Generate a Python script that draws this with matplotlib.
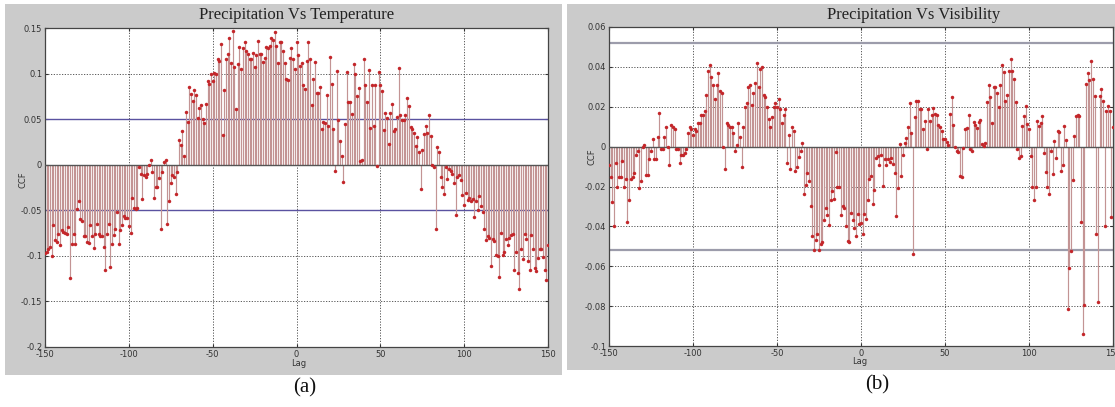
import numpy as np
import matplotlib
matplotlib.use('Agg')
import matplotlib.pyplot as plt
from matplotlib.patches import Rectangle

lags = np.arange(-150, 151)

temp_ccf = [
    -0.097, -0.096, -0.093, -0.090, -0.100, -0.066, -0.083, -0.085, -0.076, -0.088,
    -0.072, -0.074, -0.075, -0.076, -0.068, -0.124, -0.087, -0.076, -0.087, -0.049,
    -0.040, -0.060, -0.062, -0.078, -0.078, -0.085, -0.086, -0.066, -0.078, -0.091,
    -0.076, -0.065, -0.076, -0.078, -0.078, -0.090, -0.115, -0.076, -0.065, -0.112,
    -0.087, -0.077, -0.070, -0.052, -0.087, -0.072, -0.066, -0.056, -0.058, -0.058,
    -0.067, -0.075, -0.036, -0.047, -0.049, -0.048,
    -0.002, -0.010, -0.038, -0.011, -0.013, -0.010, 0.000, 0.005, -0.008, -0.037,
    -0.025, -0.025, -0.015, -0.071, -0.008, 0.003, 0.005, -0.065, -0.040, -0.020,
    -0.011, -0.014, -0.032, -0.008,
    0.027, 0.022, 0.037, 0.010, 0.058, 0.047, 0.085, 0.078, 0.070, 0.082,
    0.077, 0.051, 0.062, 0.065, 0.050, 0.046, 0.067, 0.092, 0.089, 0.100,
    0.092, 0.101, 0.100, 0.116, 0.114, 0.132, 0.033, 0.082, 0.116, 0.121,
    0.139, 0.112, 0.147, 0.107, 0.061, 0.110, 0.129, 0.105, 0.128, 0.135,
    0.125, 0.121, 0.116, 0.116, 0.123, 0.107, 0.120, 0.136, 0.122, 0.122,
    0.113, 0.117, 0.129, 0.128,
    0.130, 0.139, 0.137, 0.146, 0.130, 0.112, 0.135, 0.135, 0.125, 0.112,
    0.094, 0.093, 0.117, 0.128, 0.116, 0.105, 0.135, 0.120, 0.108, 0.112,
    0.087, 0.083, 0.114, 0.135, 0.116, 0.066, 0.094, 0.113, 0.079, 0.079,
    0.085, 0.039, 0.047, 0.046, 0.076, 0.042, 0.118, 0.089, 0.039, -0.007,
    0.103, 0.049, 0.026, 0.010, -0.019, 0.045, 0.102, 0.069, 0.069, 0.056,
    0.110, 0.100, 0.075, 0.084, 0.004, 0.005, 0.116, 0.088, 0.069, 0.104,
    0.040, 0.088, 0.042, 0.088, -0.001, 0.102, 0.087, 0.081, 0.038, 0.057,
    0.051, 0.023, 0.057, 0.067, 0.037, 0.039, 0.052, 0.106, 0.055, 0.049,
    0.049, 0.054, 0.073, 0.064, 0.041, 0.039, 0.035, 0.020, 0.030, 0.014,
    -0.027, 0.016, 0.034, 0.043, 0.035, 0.054, 0.032, 0.000, -0.003, -0.070,
    0.019, 0.014, -0.014, -0.025, -0.032, -0.003, -0.016, -0.005, -0.007, -0.010,
    -0.020, -0.055, -0.013, -0.011, -0.017, -0.033, -0.044, -0.031, -0.039, -0.037,
    -0.040, -0.038, -0.057, -0.040, -0.050, -0.034, -0.045, -0.052, -0.070, -0.083,
    -0.078, -0.080, -0.111, -0.082, -0.084, -0.099, -0.100, -0.123, -0.075, -0.099,
    -0.096, -0.082, -0.088, -0.080, -0.077, -0.076, -0.115, -0.096, -0.119, -0.136,
    -0.093, -0.103, -0.076, -0.082, -0.106, -0.115, -0.077, -0.093, -0.113, -0.117,
    -0.102, -0.092, -0.093, -0.101, -0.115, -0.127, -0.088,
]

vis_ccf = [
    -0.009, -0.015, -0.028, -0.040, -0.008, -0.020, -0.015, -0.015, -0.007, -0.020,
    -0.016, -0.038, -0.027, -0.016, -0.015, -0.013, -0.004, -0.002, -0.021, -0.017,
    0.000, 0.001, -0.014, -0.014, -0.006, -0.002, 0.004, -0.006, -0.006, 0.005,
    0.017, -0.001, -0.001, 0.005, 0.010, 0.000, -0.009, 0.011, 0.010, 0.009,
    -0.001, -0.001, -0.008, -0.004, -0.004, -0.003, -0.001, 0.007, 0.010, 0.009,
    0.006, 0.009, 0.008, 0.012, 0.012, 0.016, 0.016, 0.018, 0.026, 0.038,
    0.041, 0.035, 0.031, 0.024, 0.031, 0.037, 0.028, 0.027, 0.000, -0.011,
    0.012, 0.011, 0.010, 0.010, 0.007, -0.002, 0.001, 0.012, 0.005, -0.010,
    0.010, 0.020, 0.022, 0.030, 0.031, 0.021, 0.027, 0.032, 0.042, 0.030,
    0.039, 0.040, 0.026, 0.025, 0.020, 0.014, 0.010, 0.015, 0.020, 0.022,
    0.020, 0.024, 0.019, 0.012, 0.016, 0.019, -0.008, 0.006, -0.011, 0.010,
    0.008, -0.012, -0.010, -0.005, -0.002, 0.002, -0.024, -0.019, -0.013,
    -0.017, -0.030, -0.045, -0.052, -0.047, -0.044, -0.052, -0.049, -0.048, -0.037,
    -0.031, -0.0345, -0.0395, -0.027, -0.0225, -0.0265, -0.0025, -0.020, -0.0205, -0.0345,
    -0.030, -0.031, -0.040, -0.0475, -0.048, -0.0335, -0.037, -0.041, -0.045, -0.034,
    -0.039, -0.0385, -0.044, -0.034, -0.0365, -0.027, -0.016, -0.0147, -0.029, -0.022,
    -0.0055, -0.0047, -0.009, -0.0042, -0.0197, -0.006, -0.009, -0.006, -0.0075, -0.0055,
    -0.0085, -0.013, -0.035, -0.021, 0.0015, -0.0147, -0.004, 0.002, 0.0045, 0.010,
    0.022, 0.007, -0.054, 0.015, 0.023, 0.023, 0.0188, 0.019, 0.0087, 0.013,
    -0.001, 0.019, 0.013, 0.016, 0.0196, 0.0166, 0.016, 0.011, 0.010, 0.008,
    0.004, 0.004, 0.0025, 0.001, 0.0166, 0.025, 0.011, 0.000, -0.002, -0.0025,
    -0.0147, -0.015, -0.0005, 0.009, 0.0095, 0.016, -0.001, -0.002, 0.0125, 0.011,
    0.0095, 0.0125, 0.0135,
    0.0015, 0.0003, 0.002, 0.0225, 0.031, 0.025, 0.0117, 0.030, 0.030, 0.027,
    0.0197, 0.031, 0.041, 0.0375, 0.023, 0.026, 0.0377, 0.044, 0.0377, 0.034,
    0.0225, -0.001, -0.0057, -0.0045, 0.0105, 0.0155, 0.0205, 0.0113, 0.0088, -0.0045,
    -0.020, -0.0267, -0.020,
    0.0127, 0.0105, 0.012, 0.0155, -0.003, -0.0128, -0.0203, -0.024, -0.002, -0.0137,
    0.003, -0.0057, 0.0077, 0.0072, -0.012, -0.009, 0.0105, 0.0033, -0.0812, -0.0607,
    -0.0523, -0.0167, 0.0055, 0.0155, 0.016, 0.0155, -0.0378, -0.0942, -0.0795, 0.0313,
    0.0367, 0.0333, 0.0427, 0.034, 0.0255, -0.0437, -0.078, 0.0255, 0.029, 0.0227,
    -0.040, 0.018, 0.0205, 0.018, -0.0353, 0.010,
]

xticks = [-150, -100, -50, 0, 50, 100, 150]
temp_yticks = [-0.2, -0.15, -0.1, -0.05, 0, 0.05, 0.1, 0.15]
temp_yticklabels = ['-0.2', '-0.15', '-0.1', '-0.05', '0', '0.05', '0.1', '0.15']
vis_yticks = [-0.1, -0.08, -0.06, -0.04, -0.02, 0, 0.02, 0.04, 0.06]
vis_yticklabels = ['-0.1', '-0.08', '-0.06', '-0.04', '-0.02', '0', '0.02', '0.04', '0.06']
temp_bound = 0.05
vis_bound = 0.0518
titles = ['Precipitation Vs Temperature', 'Precipitation Vs Visibility']
panel_labels = ['(a)', '(b)']

W, H = 1115, 407
fig = plt.figure(figsize=(W / 100, H / 100), dpi=100)
fig.patch.set_facecolor('white')


def rect_px(x0, y0, x1, y1):
    return [x0 / W, 1 - y1 / H, (x1 - x0) / W, (y1 - y0) / H]


def fx(x):
    return x / W


def fy(y):
    return 1 - y / H


# gray figure backgrounds (MATLAB style), drawn beneath the axes
for (x0, y0, x1, y1) in [(5, 4, 562, 375), (567, 4, 1115, 370)]:
    fig.add_artist(Rectangle((fx(x0), fy(y1)), (x1 - x0) / W, (y1 - y0) / H,
                             transform=fig.transFigure, facecolor='#cbcbcb',
                             edgecolor='none', zorder=-10))

panels = [
    dict(rect=(45, 28, 548, 347), data=temp_ccf, ylim=(-0.2, 0.15), yt=temp_yticks,
         ytl=temp_yticklabels, bound=temp_bound, bcolor='#5a52a0', blw=1.0),
    dict(rect=(609, 27, 1113, 346), data=vis_ccf, ylim=(-0.1, 0.06), yt=vis_yticks,
         ytl=vis_yticklabels, bound=vis_bound, bcolor='#9c9cab', blw=1.6),
]

for p in panels:
    ax = fig.add_axes(rect_px(*p['rect']))
    ax.set_zorder(1)
    ax.set_facecolor('white')
    vals = np.array(p['data'])
    ax.set_axisbelow(True)
    ax.grid(True, linestyle=(0, (1.5, 1.8)), color='#444444', linewidth=0.6)
    ax.axhline(p['bound'], color=p['bcolor'], lw=p['blw'], zorder=1)
    ax.axhline(-p['bound'], color=p['bcolor'], lw=p['blw'], zorder=1)
    ax.vlines(lags, 0, vals, colors='#c39494', linewidth=0.85, zorder=2)
    ax.axhline(0, color='#555555', lw=1.0, zorder=3)
    ax.plot(lags, vals, 'o', color='#c3262a', markersize=2.5, markeredgewidth=0, zorder=4)
    ax.set_xlim(-150, 150)
    ax.set_ylim(*p['ylim'])
    ax.set_xticks(xticks)
    ax.set_xticklabels([str(t) for t in xticks])
    ax.set_yticks(p['yt'])
    ax.set_yticklabels(p['ytl'])
    ax.tick_params(direction='in', length=2, labelsize=6, colors='#333333', pad=2,
                   top=True, right=True)
    for s in ax.spines.values():
        s.set_color('#444444')
        s.set_linewidth(0.9)

serif = ['Liberation Serif', 'DejaVu Serif']
fig.text(fx(297), fy(15), titles[0], ha='center', va='center', fontsize=12,
         family=serif, color='#222222')
fig.text(fx(914), fy(15), titles[1], ha='center', va='center', fontsize=12,
         family=serif, color='#222222')

fig.text(fx(23), fy(180), 'CCF', rotation=90, ha='center', va='center', fontsize=6, color='#333333')
fig.text(fx(592), fy(157), 'CCF', rotation=90, ha='center', va='center', fontsize=6, color='#333333')
fig.text(fx(299), fy(363), 'Lag', ha='center', va='center', fontsize=6, color='#333333')
fig.text(fx(860), fy(362), 'Lag', ha='center', va='center', fontsize=6, color='#333333')

fig.text(fx(305), fy(388), panel_labels[0], ha='center', va='center', fontsize=15,
         family=serif, color='#111111')
fig.text(fx(877), fy(385), panel_labels[1], ha='center', va='center', fontsize=15,
         family=serif, color='#111111')

fig.savefig('out.png', dpi=100, facecolor='white')
